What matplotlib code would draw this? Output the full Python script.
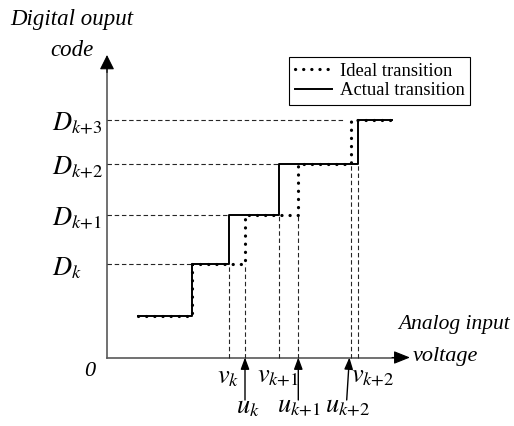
import matplotlib
matplotlib.use("Agg")
import matplotlib.pyplot as plt

plt.rcParams['mathtext.fontset'] = 'stix'
plt.rcParams['font.family'] = ['Liberation Serif', 'DejaVu Serif']

# code levels (bottom step, D_k, D_k+1, D_k+2, D_k+3)
code_levels = [42, 93.5, 143, 193.5, 237.5]
code_labels = ['$D_k$', '$D_{k{+}1}$', '$D_{k{+}2}$', '$D_{k{+}3}$']
# step edges: start, transitions..., end
actual_x = [31, 85, 122, 172, 251.3, 285]
ideal_x = [31, 85, 138, 191.3, 243.7, 285]
v_labels = ['$v_k$', '$v_{k{+}1}$', '$v_{k{+}2}$']
u_labels = ['$u_k$', '$u_{k{+}1}$', '$u_{k{+}2}$']

fig = plt.figure(figsize=(5.14, 4.26), dpi=100)
ax = fig.add_axes([0, 0, 1, 1])
ax.set_xlim(-107, 407)
ax.set_ylim(-68.5, 357.5)
ax.axis('off')

# axes with arrows
ax.plot([0, 0], [0, 292], color='0.35', lw=1.2)
ax.plot([0, 292], [0, 0], color='0.35', lw=1.2)
ax.annotate('', xy=(0, 302.5), xytext=(0, 285),
            arrowprops=dict(arrowstyle='-|>,head_length=9,head_width=4.5',
                            mutation_scale=1, color='k', lw=0.8,
                            shrinkA=0, shrinkB=0))
ax.annotate('', xy=(303, 0), xytext=(285, 0),
            arrowprops=dict(arrowstyle='-|>,head_length=10,head_width=4',
                            mutation_scale=1, color='k', lw=0.8,
                            shrinkA=0, shrinkB=0))

steps_y = code_levels + [code_levels[-1]]
actual_line, = ax.step(actual_x, steps_y, where='post', color='k', lw=1.4,
                       label='Actual transition', zorder=3)
ideal_line, = ax.step(ideal_x, steps_y, where='post', color='k', lw=2.3,
                      linestyle=(0, (0.05, 2.5)), dash_capstyle='round',
                      label='Ideal transition', zorder=4)

dash = (0, (4, 2.5))
# horizontal guides from the code axis to the step
for i in range(1, len(code_levels)):
    xend = min(actual_x[i], ideal_x[i])
    if i == len(code_levels) - 1:
        xend -= 6
    ax.plot([0, xend], [code_levels[i]] * 2, color='0.15', lw=0.8,
            linestyle=dash, zorder=2)
    ax.text(-55, code_levels[i] - 11, code_labels[i - 1], fontsize=19,
            ha='left', va='baseline')

# vertical guides down to the voltage axis
v_offsets = [-1, -1, 14]
u_offsets = [3, 0.5, -3]
for j in range(3):
    i = j + 2
    for xv in (actual_x[i], ideal_x[i]):
        ax.plot([xv, xv], [0, code_levels[i - 1]], color='0.15', lw=0.8,
                linestyle=dash, zorder=2)
    ax.text(actual_x[i] + v_offsets[j], -25.5, v_labels[j], fontsize=19,
            ha='center', va='baseline')
    ax.text(ideal_x[i] + u_offsets[j], -55.5, u_labels[j], fontsize=19,
            ha='center', va='baseline')
    xb = ideal_x[i] - (4 if j == 2 else 0)
    xt = ideal_x[i] - (1.3 if j == 2 else 0)
    ax.annotate('', xy=(xt, 0), xytext=(xb, -42.5),
                arrowprops=dict(arrowstyle='-|>,head_length=7,head_width=2.6',
                                mutation_scale=1, color='k', lw=1,
                                shrinkA=0, shrinkB=0))

ax.text(-35, 337.5, 'Digital ouput', fontsize=16.5, style='italic',
        ha='center', va='center')
ax.text(-35, 307.5, 'code', fontsize=16.5, style='italic',
        ha='center', va='center')
ax.text(403, 32.5, 'Analog input', fontsize=15.5, style='italic',
        ha='right', va='center')
ax.text(306, 0.5, 'voltage', fontsize=16, style='italic',
        ha='left', va='center')
ax.text(-17, -14.5, '0', fontsize=16, style='italic',
        ha='center', va='center')

leg = ax.legend(handles=[ideal_line, actual_line], loc='upper right',
                bbox_to_anchor=(470 / 514, 1 - 57 / 426),
                bbox_transform=fig.transFigure, borderaxespad=0,
                frameon=True, fancybox=False, edgecolor='k', framealpha=1,
                prop={'family': 'Liberation Serif', 'size': 13.4},
                handlelength=2.0, handletextpad=0.4, borderpad=0.3,
                labelspacing=0.15)
leg.get_frame().set_linewidth(0.8)

fig.savefig('out.png', dpi=100)
